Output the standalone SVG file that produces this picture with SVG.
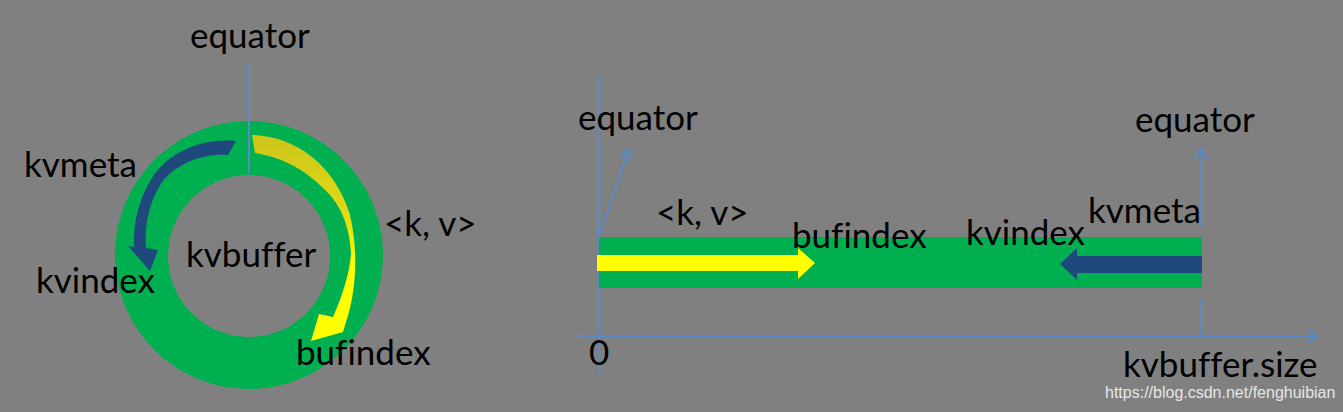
<svg xmlns="http://www.w3.org/2000/svg" width="1343" height="412" viewBox="0 0 1343 412">
<style>
.t{font-family:Lato,"Liberation Sans",sans-serif;font-size:35px;fill:#000;font-variant-ligatures:none;font-feature-settings:"liga" 0}
.ax{stroke:#5A8AC8;stroke-width:2;fill:none}
.wm{font-family:"Liberation Sans",Arial,sans-serif;font-size:16px;fill:#e6e6e6}
</style>
<defs>
<marker id="open" viewBox="0 0 14 14" refX="12" refY="7" markerWidth="14" markerHeight="14" markerUnits="userSpaceOnUse" orient="auto">
<path d="M1,1 L12,7 L1,13" fill="none" stroke="#5A8AC8" stroke-width="2"/>
</marker>
<linearGradient id="yg" x1="0" y1="140" x2="0" y2="270" gradientUnits="userSpaceOnUse">
<stop offset="0" stop-color="#CEC61C"/>
<stop offset="0.6" stop-color="#E2DC12"/>
<stop offset="1" stop-color="#FFFF00"/>
</linearGradient>
</defs>
<rect width="1343" height="412" fill="#808080"/>
<g id="ring">
<path d="M249,121 A134,134 0 1 1 248.9,121 Z M249,175 A81,81 0 1 0 249.1,175 Z" fill="#00B050" fill-rule="evenodd"/>
</g>
<g id="connectors">
<line class="ax" x1="249" y1="64" x2="249" y2="173"/>
<path d="M236,141 C205,138 170,150 152,178 C138,200 133,225 134,247 L128,246 L150,271 L158,250 L146,248 C144,225 150,200 162,182 C178,162 205,153 228,155 Z" fill="#1F497D"/>
<path d="M252,135 C295,136 335,165 350,215 C358,248 357,290 346,322 L343,332 L311,341 L319,314 L333,317 C344,292 350,270 351,253 C350,230 342,205 325,190 C305,170 285,158 255,153 Z" fill="url(#yg)"/>
<line class="ax" x1="599" y1="75" x2="599" y2="375"/>
<line class="ax" x1="577" y1="336" x2="1318" y2="336" marker-end="url(#open)"/>
<line class="ax" x1="600" y1="234" x2="629" y2="149" marker-end="url(#open)"/>
<line class="ax" x1="1201" y1="228" x2="1201" y2="148" marker-end="url(#open)"/>
<line class="ax" x1="1201" y1="300" x2="1201" y2="336"/>
</g>
<g id="bar">
<rect x="599" y="237" width="603" height="51" fill="#00B050"/>
<polygon points="597,255 798,255 798,248 815,263 798,279 798,271 597,271" fill="#FFFF00"/>
<polygon points="1202,256 1077,256 1077,248 1060,264 1077,280 1077,273 1202,273" fill="#1F497D"/>
</g>
<g id="labels-left">
<text class="t" x="190" y="48">equator</text>
<text class="t" x="24" y="177">kvmeta</text>
<text class="t" x="36" y="293">kvindex</text>
<text class="t" x="186" y="267">kvbuffer</text>
<text class="t" x="384" y="236">&lt;k, v&gt;</text>
<text class="t" x="296" y="365">bufindex</text>
</g>
<g id="labels-right">
<text class="t" x="578" y="130">equator</text>
<text class="t" x="656" y="225">&lt;k, v&gt;</text>
<text class="t" x="792" y="248">bufindex</text>
<text class="t" x="966" y="245">kvindex</text>
<text class="t" x="1088" y="223">kvmeta</text>
<text class="t" x="1135" y="132">equator</text>
<text class="t" x="589" y="365">0</text>
<text class="t" x="1123" y="377">kvbuffer.size</text>
<text class="wm" x="1105" y="398">https://blog.csdn.net/fenghuibian</text>
</g>
</svg>
